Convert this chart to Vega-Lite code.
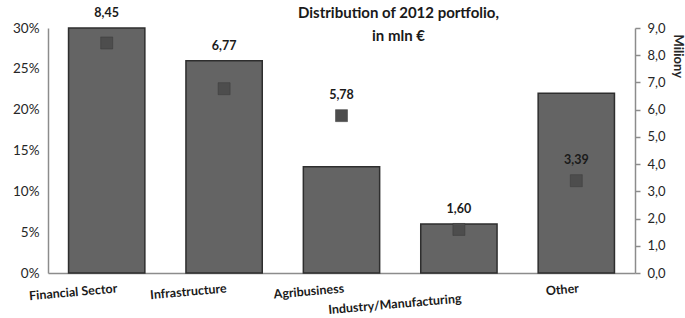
{
  "$schema": "https://vega.github.io/schema/vega-lite/v6.json",
  "width": 587,
  "height": 245,
  "autosize": {"type": "none"},
  "padding": {"left": 48, "top": 28, "right": 50, "bottom": 45},
  "background": "white",
  "config": {
    "view": {"stroke": null},
    "font": "Lato",
    "locale": {"number": {"decimal": ",", "thousands": ".", "grouping": [3], "currency": ["", " €"]}}
  },
  "title": {
    "text": ["Distribution of 2012 portfolio,", "in mln €"],
    "anchor": "middle",
    "frame": "group",
    "dx": 57,
    "baseline": "top",
    "offset": 0,
    "dy": 37,
    "fontSize": 15,
    "fontWeight": "bold",
    "color": "#1a1a1a",
    "font": "Lato",
    "lineHeight": 23
  },
  "data": {
    "values": [
      {"category": "Financial Sector", "share": 0.30, "millions": 8.45},
      {"category": "Infrastructure", "share": 0.26, "millions": 6.77},
      {"category": "Agribusiness", "share": 0.13, "millions": 5.78},
      {"category": "Industry/Manufacturing", "share": 0.06, "millions": 1.60},
      {"category": "Other", "share": 0.22, "millions": 3.39}
    ]
  },
  "encoding": {
    "x": {
      "field": "category",
      "type": "nominal",
      "sort": null,
      "scale": {"paddingInner": 0.35, "paddingOuter": 0.175},
      "axis": {
        "title": null,
        "ticks": false,
        "domainColor": "#8c8c8c",
        "domainWidth": 1.5,
        "labelAngle": -5,
        "labelAlign": "right",
        "labelBaseline": "top",
        "labelFontWeight": "bold",
        "labelFontSize": 12.5,
        "labelColor": "#1a1a1a",
        "labelOffset": {"condition": {"test": "datum.value === 'Financial Sector'", "value": 10}, "value": 2},
        "labelPadding": {"condition": {"test": "datum.value === 'Industry/Manufacturing'", "value": 19}, "value": 9}
      }
    }
  },
  "layer": [
    {
      "encoding": {
        "y": {
          "field": "share",
          "type": "quantitative",
          "scale": {"domain": [0, 0.3], "nice": false},
          "axis": {
            "orient": "left",
            "title": null,
            "values": [0, 0.05, 0.1, 0.15, 0.2, 0.25, 0.3],
            "format": ".0%",
            "ticks": false,
            "grid": false,
            "domainColor": "#8c8c8c",
            "domainWidth": 1.5,
            "labelFontSize": 13.5,
            "labelColor": "#262626",
            "labelPadding": 9
          }
        }
      },
      "layer": [
        {"mark": {"type": "bar", "color": "#646464", "stroke": "#2e2e2e", "strokeWidth": 1.5}},
        {
          "transform": [{"filter": {"field": "category", "oneOf": ["Financial Sector", "Infrastructure", "Industry/Manufacturing"]}}],
          "mark": {"type": "text", "dy": -15, "fontWeight": "bold", "fontSize": 12.5, "color": "#1a1a1a", "font": "Lato"},
          "encoding": {"text": {"field": "millions", "type": "quantitative", "format": ".2f"}}
        }
      ]
    },
    {
      "encoding": {
        "y": {
          "field": "millions",
          "type": "quantitative",
          "scale": {"domain": [0, 9], "nice": false},
          "axis": {
            "orient": "right",
            "title": "Miliony",
            "titleAngle": 90,
            "titleAlign": "left",
            "titleBaseline": "middle",
            "titleX": 42,
            "titleY": 6,
            "titleFontWeight": "bold",
            "titleFontSize": 13,
            "titleColor": "#262626",
            "values": [0, 1, 2, 3, 4, 5, 6, 7, 8, 9],
            "format": ".1f",
            "ticks": true,
            "tickSize": 5,
            "tickColor": "#8c8c8c",
            "tickWidth": 1.5,
            "grid": false,
            "domainColor": "#8c8c8c",
            "domainWidth": 1.5,
            "labelFontSize": 13,
            "labelColor": "#262626",
            "labelPadding": 7
          }
        }
      },
      "layer": [
        {"mark": {"type": "square", "size": 144, "filled": true, "color": "#4d4d4d", "opacity": 1, "stroke": "#3a3a3a", "strokeWidth": 0.5}},
        {
          "transform": [{"filter": {"field": "category", "oneOf": ["Agribusiness", "Other"]}}],
          "mark": {"type": "text", "dy": -21, "fontWeight": "bold", "fontSize": 12.5, "color": "#1a1a1a", "font": "Lato"},
          "encoding": {"text": {"field": "millions", "type": "quantitative", "format": ".2f"}}
        }
      ]
    }
  ],
  "resolve": {"scale": {"y": "independent"}}
}
